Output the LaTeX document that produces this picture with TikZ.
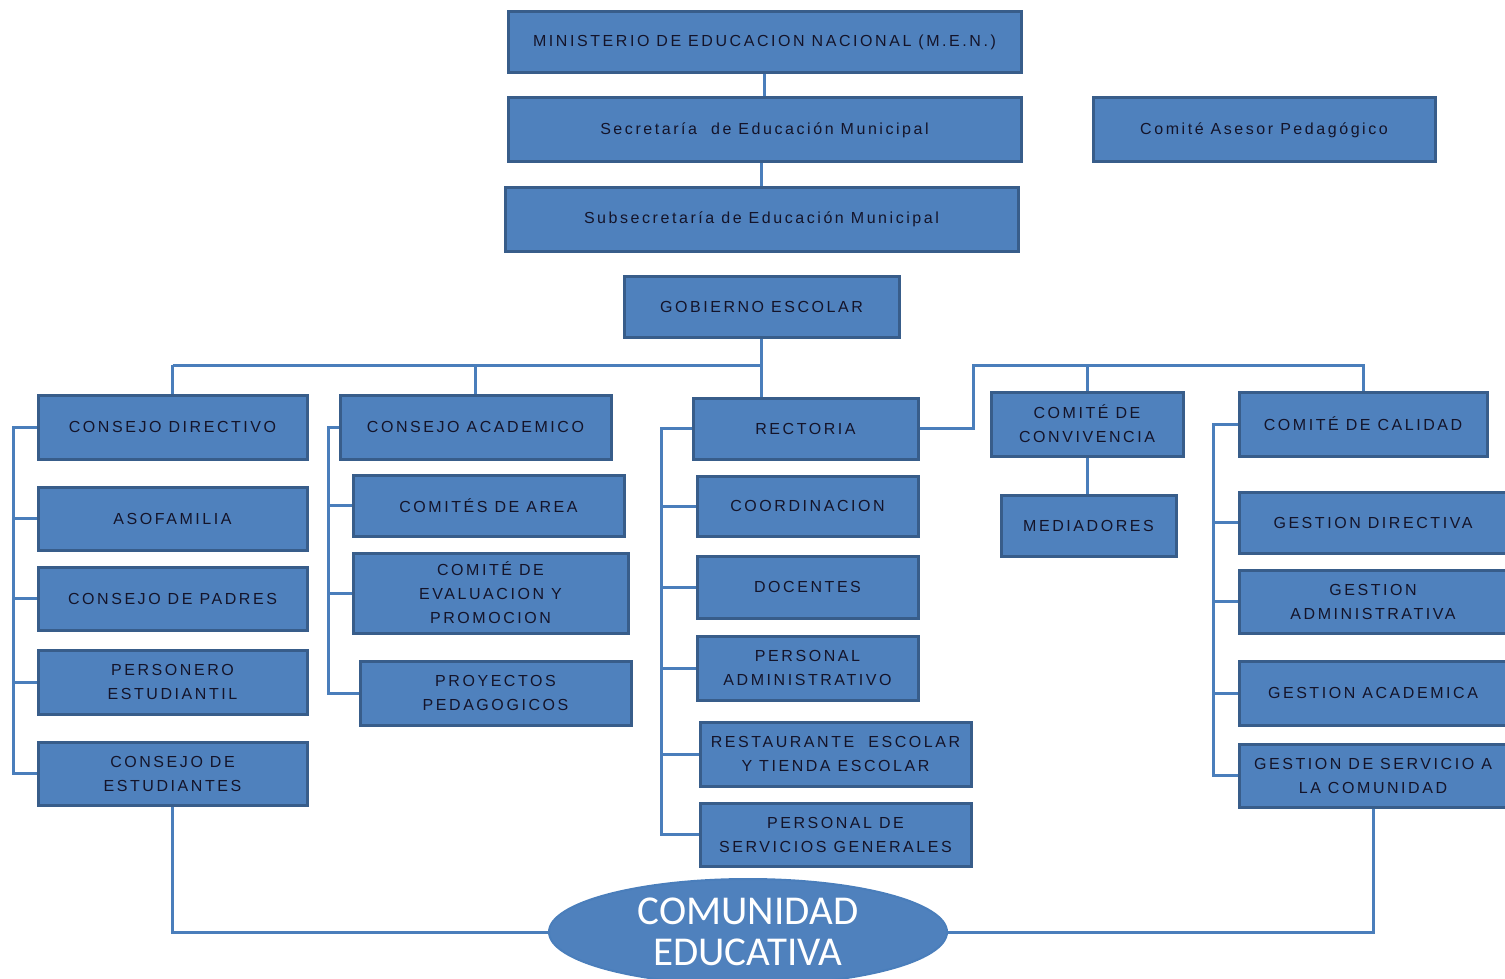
\documentclass[tikz,border=0pt]{standalone}
\usepackage{fontspec}
\usetikzlibrary{shapes.geometric,calc}
\newfontfamily\boxfont{Liberation Sans}[LetterSpace=16]
\newfontfamily\ellfont{Carlito}
\definecolor{boxfill}{HTML}{4F81BD}
\definecolor{boxedge}{HTML}{385D8A}
\definecolor{linecol}{HTML}{4A7EBB}
\definecolor{txt}{HTML}{14142A}
\tikzset{
  box/.style={draw=boxedge, fill=boxfill, line width=3pt, align=center, text=txt,
    inner sep=0pt, font=\boxfont\fontsize{16}{24}\selectfont},
  conn/.style={draw=linecol, line width=3pt},
}
\begin{document}
\begin{tikzpicture}[x=1pt,y=-1pt]
\useasboundingbox (0,0) rectangle (1505,979);
% top chain
\node[box, minimum width=513pt, minimum height=61pt] (men) at (764.5,42.5) {MINISTERIO DE EDUCACION NACIONAL (M.E.N.)};
\node[box, minimum width=513pt, minimum height=64pt] (sec) at (764.5,130) {Secretaría \ de Educación Municipal};
\node[box, minimum width=513pt, minimum height=64pt] (sub) at (761.5,219) {Subsecretaría de Educación Municipal};
\node[box, minimum width=342pt, minimum height=64pt] (ase) at (1264,130) {Comité Asesor Pedagógico};
\node[box, minimum width=275pt, minimum height=61pt] (gob) at (761.5,306.5) {GOBIERNO ESCOLAR};
% column 1
\node[box, minimum width=269pt, minimum height=64pt] (cd) at (172.5,427) {CONSEJO DIRECTIVO};
\node[box, minimum width=269pt, minimum height=63pt] (aso) at (172.5,518.5) {ASOFAMILIA};
\node[box, minimum width=269pt, minimum height=63pt] (cp) at (172.5,598.5) {CONSEJO DE PADRES};
\node[box, minimum width=269pt, minimum height=64pt] (pe) at (172.5,682) {PERSONERO\\ESTUDIANTIL};
\node[box, minimum width=269pt, minimum height=63pt] (ce) at (172.5,773.5) {CONSEJO DE\\ESTUDIANTES};
% column 2
\node[box, minimum width=271pt, minimum height=64pt] (ca) at (475.5,427) {CONSEJO ACADEMICO};
\node[box, minimum width=271pt, minimum height=61pt] (cda) at (488.5,505.5) {COMITÉS DE AREA};
\node[box, minimum width=275pt, minimum height=80pt] (cep) at (490.5,593) {COMITÉ DE\\EVALUACION Y\\PROMOCION};
\node[box, minimum width=271pt, minimum height=64pt] (pp) at (495.5,693) {PROYECTOS\\PEDAGOGICOS};
% column 3
\node[box, minimum width=225pt, minimum height=61pt] (rec) at (805.5,428.5) {RECTORIA};
\node[box, minimum width=221pt, minimum height=60pt] (coo) at (807.5,506) {COORDINACION};
\node[box, minimum width=221pt, minimum height=62pt] (doc) at (807.5,587) {DOCENTES};
\node[box, minimum width=221pt, minimum height=64pt] (pa) at (807.5,668) {PERSONAL\\ADMINISTRATIVO};
\node[box, minimum width=271pt, minimum height=64pt] (rte) at (835.5,754) {RESTAURANTE \ ESCOLAR\\Y TIENDA ESCOLAR};
\node[box, minimum width=271pt, minimum height=63pt] (psg) at (835.5,834.5) {PERSONAL DE\\SERVICIOS GENERALES};
% column 4
\node[box, minimum width=192pt, minimum height=64pt] (cc) at (1087,424) {COMITÉ DE\\CONVIVENCIA};
\node[box, minimum width=175pt, minimum height=61pt] (med) at (1088.5,525.5) {MEDIADORES};
% column 5
\node[box, minimum width=248pt, minimum height=64pt] (cal) at (1363,424) {COMITÉ DE CALIDAD};
\node[box, minimum width=268pt, minimum height=61pt] (gd) at (1373,522.5) {GESTION DIRECTIVA};
\node[box, minimum width=268pt, minimum height=63pt] (ga) at (1373,601.5) {GESTION\\ADMINISTRATIVA};
\node[box, minimum width=268pt, minimum height=64pt] (gac) at (1373,693) {GESTION ACADEMICA};
\node[box, minimum width=268pt, minimum height=63pt] (gs) at (1373,775.5) {GESTION DE SERVICIO A\\LA COMUNIDAD};
% ellipse
\node[ellipse, draw=linecol, fill=boxfill, line width=2pt, minimum width=398pt, minimum height=106pt,
  inner sep=0pt, text=white, align=center, font=\ellfont\fontsize{41}{41}\selectfont] (ell) at (748,932) {COMUNIDAD\\EDUCATIVA};
% coordinates
\coordinate (by) at (0,365);
\coordinate (bend) at (973,365);
\coordinate (l1) at (13,0);
\coordinate (l2) at (328,0);
\coordinate (l3) at (661,0);
\coordinate (l5) at (1213,0);
% connectors
\draw[conn] (men.south) -- (sec.north);
\draw[conn] (sec.south -| sub.north) -- (sub.north);
\draw[conn] (gob.south) -- (gob.south |- rec.north);
\draw[conn] (cd.north |- by) -- (gob.south |- by);
\draw[conn] (cd.north) -- (cd.north |- by);
\draw[conn] (ca.north) -- (ca.north |- by);
\draw[conn] (rec.east) -| (bend) -- (cal.north |- by) -- (cal.north);
\draw[conn] (cc.north |- by) -- (cc.north);
\draw[conn] (cc.south) -- (cc.south |- med.north);
% column buses
\draw[conn] (cd.west) -- (cd.west -| l1) -- (ce.west -| l1) -- (ce.west);
\foreach \n in {aso,cp,pe} \draw[conn] (\n.west) -- (\n.west -| l1);
\draw[conn] (ca.west) -- (ca.west -| l2) -- (pp.west -| l2) -- (pp.west);
\foreach \n in {cda,cep} \draw[conn] (\n.west) -- (\n.west -| l2);
\draw[conn] (rec.west) -- (rec.west -| l3) -- (psg.west -| l3) -- (psg.west);
\foreach \n in {coo,doc,pa,rte} \draw[conn] (\n.west) -- (\n.west -| l3);
\draw[conn] (cal.west) -- (cal.west -| l5) -- (gs.west -| l5) -- (gs.west);
\foreach \n in {gd,ga,gac} \draw[conn] (\n.west) -- (\n.west -| l5);
% bottom
\draw[conn] (ce.south) |- (ell.west);
\draw[conn] (gs.south) |- (ell.east);
\end{tikzpicture}
\end{document}
